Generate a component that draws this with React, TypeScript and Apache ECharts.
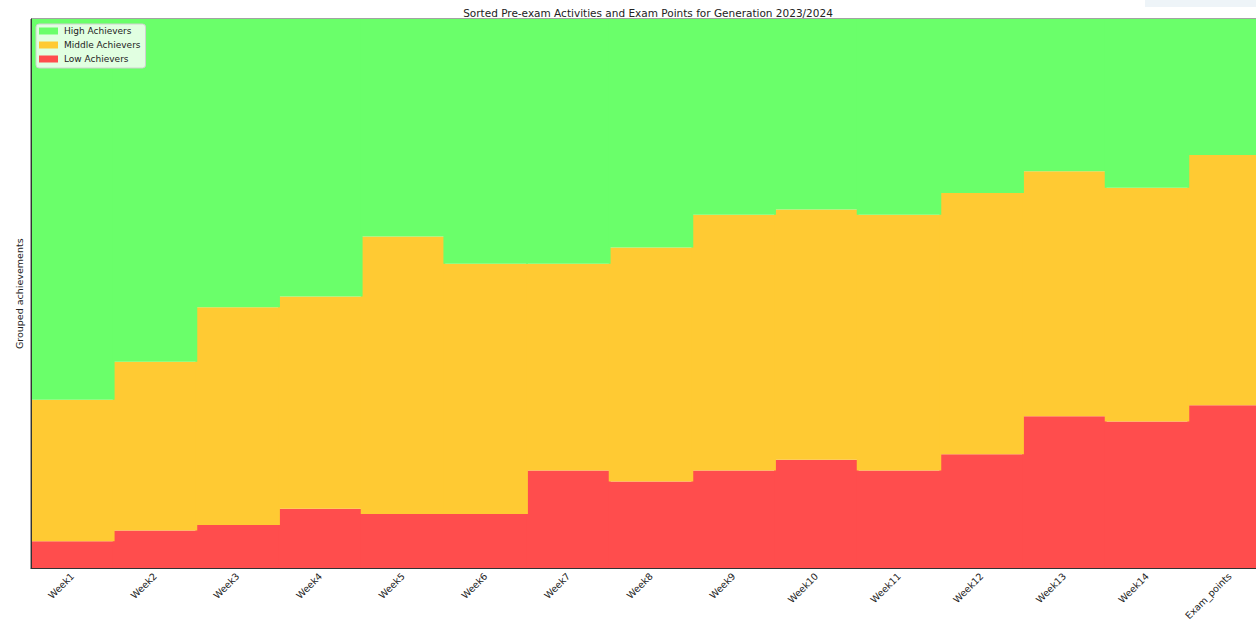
import React, { useEffect, useRef } from "react";
import * as echarts from "echarts";

const categories = [
  "Week1", "Week2", "Week3", "Week4", "Week5", "Week6", "Week7", "Week8",
  "Week9", "Week10", "Week11", "Week12", "Week13", "Week14", "Exam_points",
];
const lowAchievers = [5, 7, 8, 11, 10, 10, 18, 16, 18, 20, 18, 21, 28, 27, 30];
const middleAchievers = [26, 31, 40, 39, 51, 46, 38, 43, 47, 46, 47, 48, 45, 43, 46];
const highAchievers = [70, 63, 53, 51, 40, 45, 45, 42, 36, 35, 36, 32, 28, 31, 25];
const totalStudents = 101;

const GREEN = "#6aff6a";
const ORANGE = "#ffca33";
const RED = "#ff4d4d";
const FONT = "DejaVu Sans";

export default function App() {
  const ref = useRef<HTMLDivElement>(null);
  useEffect(() => {
    if (!ref.current) return;
    const chart = echarts.init(ref.current, null, { renderer: "svg" });
    const barSeries = (name: string, data: number[], color: string) => ({
      name,
      type: "bar",
      stack: "all",
      data,
      barWidth: 84.5,
      itemStyle: { color },
      emphasis: { disabled: true },
    });
    chart.setOption({
      animation: false,
      backgroundColor: "#ffffff",
      textStyle: { fontFamily: FONT },
      title: {
        text: "Sorted Pre-exam Activities and Exam Points for Generation 2023/2024",
        left: 643,
        top: 2,
        textAlign: "center",
        textStyle: { fontFamily: FONT, fontSize: 10.5, fontWeight: "normal", color: "#222" },
      },
      legend: {
        data: ["High Achievers", "Middle Achievers", "Low Achievers"],
        orient: "vertical",
        left: 36,
        top: 24,
        itemWidth: 19,
        itemHeight: 7,
        itemGap: 2,
        padding: [1, 5, 3, 3],
        backgroundColor: "rgba(255,255,255,0.8)",
        borderColor: "#d0d0d0",
        borderWidth: 1,
        borderRadius: 3,
        icon: "rect",
        textStyle: { fontFamily: FONT, fontSize: 9, color: "#222", lineHeight: 12, padding: [0, 0, 0, 1] },
        selectedMode: false,
      },
      grid: {
        left: 31,
        top: 19,
        width: 1240,
        height: 554,
        show: true,
        borderColor: "#444",
        borderWidth: 1,
        backgroundColor: "transparent",
        containLabel: false,
      },
      xAxis: {
        type: "category",
        data: categories,
        z: 10,
        axisLine: { lineStyle: { color: "#333", width: 1 } },
        axisTick: { alignWithLabel: true, length: 3.5, lineStyle: { color: "#333" } },
        axisLabel: { rotate: 45, fontFamily: FONT, fontSize: 9.5, color: "#222", margin: 6, interval: 0 },
      },
      yAxis: {
        type: "value",
        min: 0,
        max: totalStudents,
        name: "Grouped achievements",
        nameLocation: "middle",
        nameGap: 7,
        nameRotate: 90,
        nameTextStyle: { fontFamily: FONT, fontSize: 9.5, color: "#222" },
        z: 10,
        axisLine: { show: true, lineStyle: { color: "#333", width: 1 } },
        axisTick: { show: false },
        axisLabel: { show: false },
        splitLine: { show: false },
      },
      graphic: [
        {
          type: "rect",
          shape: { x: 1145, y: 0, width: 111, height: 7 },
          style: { fill: "#eef4f8" },
          silent: true,
        },
      ],
      series: [
        barSeries("Low Achievers", lowAchievers, RED),
        barSeries("Middle Achievers", middleAchievers, ORANGE),
        barSeries("High Achievers", highAchievers, GREEN),
      ],
    });
    return () => chart.dispose();
  }, []);
  return (
    <div
      ref={ref}
      style={{ position: "fixed", left: 0, top: 0, width: 1290, height: 623 }}
    />
  );
}
